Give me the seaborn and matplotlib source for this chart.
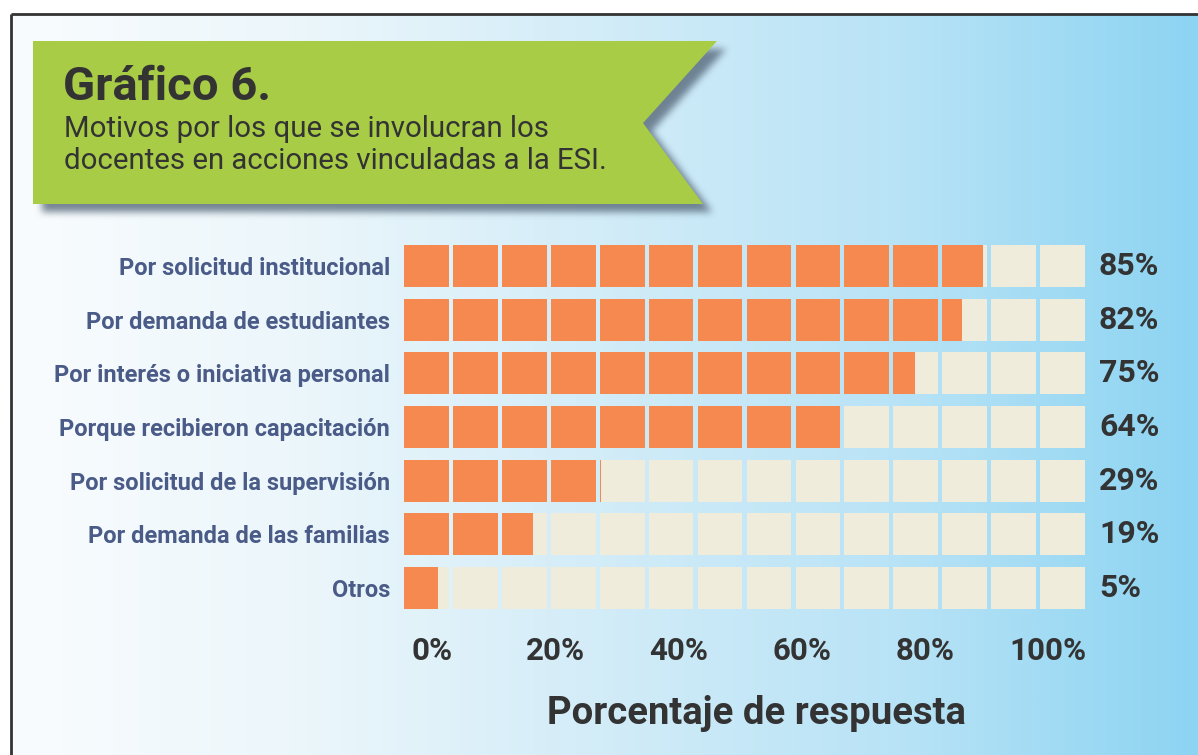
import numpy as np
import pandas as pd
import matplotlib
matplotlib.use("Agg")
import matplotlib.pyplot as plt
from matplotlib.path import Path
from matplotlib.patches import Polygon
from matplotlib.colors import LinearSegmentedColormap, to_rgb
import seaborn as sns

# ---------------- data ----------------
categories = [
    "Por solicitud institucional",
    "Por demanda de estudiantes",
    "Por interés o iniciativa personal",
    "Porque recibieron capacitación",
    "Por solicitud de la supervisión",
    "Por demanda de las familias",
    "Otros",
]
values = [85, 82, 75, 64, 29, 19, 5]
tick_labels = ["0%", "20%", "40%", "60%", "80%", "100%"]
title = "Gráfico 6."
subtitle = "Motivos por los que se involucran los\ndocentes en acciones vinculadas a la ESI."
xlabel = "Porcentaje de respuesta"
n_segments = 14

# ---------------- style ----------------
sns.set_theme(style="white")
plt.rcParams["font.family"] = ["Roboto", "DejaVu Sans"]

ORANGE = "#f5894f"
BEIGE = "#f0ecdb"
GREEN = "#a8cc46"
LABEL_BLUE = "#4b5b88"
DARK = "#333333"
SHADOW = "#56687a"

W, H = 1198, 755
fig = plt.figure(figsize=(W / 100, H / 100), dpi=100)
fig.patch.set_facecolor("white")

# decoration axes in pixel coordinates
deco = fig.add_axes([0, 0, 1, 1])
deco.axis("off")

grad_cmap = LinearSegmentedColormap.from_list(
    "bg", [(0, "#f9fcfe"), (0.25, "#ebf6fb"), (0.5, "#d2ecf8"),
           (0.75, "#b8e3f6"), (1.0, "#8dd4f2")])
grad = np.linspace(0, 1, 512).reshape(1, -1)
deco.imshow(grad, cmap=grad_cmap, aspect="auto", extent=(11, W, H, 14), zorder=0)

# border
deco.plot([11, W], [14, 14], color=DARK, lw=2.0, zorder=5, solid_capstyle="butt")
deco.plot([11, 11], [14, H], color=DARK, lw=2.0, zorder=5, solid_capstyle="butt")

# banner with blurred shadow
banner = np.array([(33, 41), (717, 41), (643, 123), (703, 204), (33, 204)])
gh, gw = 260, 800
yy, xx = np.mgrid[0:gh, 0:gw] + 0.5
shadow_poly = Path(banner + np.array([9, 8]))
mask = shadow_poly.contains_points(np.c_[xx.ravel(), yy.ravel()]).reshape(gh, gw).astype(float)
kern = np.ones(7) / 7
for _ in range(3):
    mask = np.apply_along_axis(lambda r: np.convolve(r, kern, mode="same"), 1, mask)
    mask = np.apply_along_axis(lambda c: np.convolve(c, kern, mode="same"), 0, mask)
rgba = np.zeros((gh, gw, 4))
rgba[..., :3] = to_rgb(SHADOW)
rgba[..., 3] = mask * 0.8
deco.imshow(rgba, extent=(0, gw, gh, 0), aspect="auto", zorder=1, interpolation="bilinear")

deco.add_patch(Polygon(banner, closed=True, facecolor=GREEN, edgecolor="none", zorder=2))
deco.text(63, 100, title, fontsize=34, fontweight="bold", color=DARK,
          ha="left", va="baseline", zorder=3)
deco.text(64, 115, subtitle, fontsize=21.2, color=DARK, ha="left", va="top",
          linespacing=1.2, zorder=3)

deco.set_xlim(0, W)
deco.set_ylim(H, 0)

# ---------------- main chart ----------------
ax_left, ax_right = 404, 1085
row_top, row_bot = 266, 588
unit = (row_bot - row_top) / (len(categories) - 1)
top_px = row_top - unit / 2
bot_px = row_bot + unit / 2
ax = fig.add_axes([ax_left / W, 1 - bot_px / H, (ax_right - ax_left) / W, (bot_px - top_px) / H])
ax.patch.set_alpha(0)

df = pd.DataFrame({"categoria": categories, "valor": values,
                   "total": [100] * len(categories)})

sns.barplot(data=df, x="total", y="categoria", color=BEIGE, saturation=1,
            width=0.78, ax=ax, orient="h")
sns.barplot(data=df, x="valor", y="categoria", color=ORANGE, saturation=1,
            width=0.78, ax=ax, orient="h")

ax.set_xlim(0, 100)
ax.set_ylim(len(categories) - 0.5, -0.5)

# segment clip path (gaps between blocks)
gap = 4.2 / (ax_right - ax_left) * 100
pitch = (100 + gap) / n_segments
rects = []
for k in range(n_segments):
    x0 = k * pitch
    x1 = x0 + pitch - gap
    rects.append(Path([(x0, -1), (x1, -1), (x1, 8), (x0, 8), (x0, -1)],
                      [Path.MOVETO, Path.LINETO, Path.LINETO, Path.LINETO, Path.CLOSEPOLY]))
clip = Path.make_compound_path(*rects)
for p in ax.patches:
    p.set_clip_path(clip, ax.transData)
    p.set_edgecolor("none")

# value labels
bg_container = ax.containers[0]
ax.bar_label(bg_container, labels=[f"{v}%" for v in values], padding=10,
             fontsize=23, fontweight="bold", color=DARK)

# y labels
ax.set_ylabel("")
ax.set_xlabel("")
ax.tick_params(axis="y", length=0, pad=10)
for t in ax.get_yticklabels():
    t.set_fontsize(17)
    t.set_fontweight("bold")
    t.set_color(LABEL_BLUE)

# x tick labels
ax.set_xticks(np.linspace(4.1, 94.6, len(tick_labels)))
ax.set_xticklabels(tick_labels)
ax.tick_params(axis="x", length=0, pad=15)
for t in ax.get_xticklabels():
    t.set_fontsize(22.5)
    t.set_fontweight("bold")
    t.set_color(DARK)

for s in ax.spines.values():
    s.set_visible(False)

fig.text(756 / W, 1 - 714 / H, xlabel, fontsize=27.5, fontweight="bold",
         color=DARK, ha="center", va="center")

fig.savefig("out.png", dpi=100)
